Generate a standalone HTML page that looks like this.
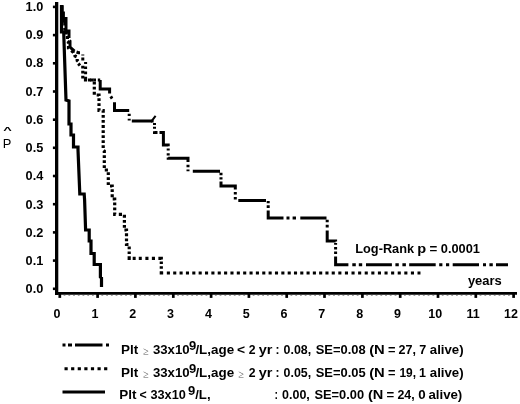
<!DOCTYPE html>
<html><head><meta charset="utf-8"><title>chart</title>
<style>html,body{margin:0;padding:0;background:#fff}body{width:520px;height:404px;position:relative;overflow:hidden}</style></head>
<body>
<svg width="520" height="404" viewBox="0 0 520 404" style="position:absolute;left:0;top:0" font-family="Liberation Sans, sans-serif" font-weight="bold" fill="#000">
<rect width="520" height="404" fill="#fff"/>
<g stroke="#000" fill="none">
<line x1="56.65" y1="2" x2="56.65" y2="295" stroke-width="3.3"/>
<line x1="55" y1="293.4" x2="517" y2="293.4" stroke-width="2.9"/>
<line x1="52.9" y1="288.8" x2="56" y2="288.8" stroke-width="2.6"/>
<line x1="52.9" y1="260.6" x2="56" y2="260.6" stroke-width="2.6"/>
<line x1="52.9" y1="232.4" x2="56" y2="232.4" stroke-width="2.6"/>
<line x1="52.9" y1="204.2" x2="56" y2="204.2" stroke-width="2.6"/>
<line x1="52.9" y1="176.0" x2="56" y2="176.0" stroke-width="2.6"/>
<line x1="52.9" y1="147.8" x2="56" y2="147.8" stroke-width="2.6"/>
<line x1="52.9" y1="119.7" x2="56" y2="119.7" stroke-width="2.6"/>
<line x1="52.9" y1="91.5" x2="56" y2="91.5" stroke-width="2.6"/>
<line x1="52.9" y1="63.3" x2="56" y2="63.3" stroke-width="2.6"/>
<line x1="52.9" y1="35.1" x2="56" y2="35.1" stroke-width="2.6"/>
<line x1="52.9" y1="6.9" x2="56" y2="6.9" stroke-width="2.6"/>
<line x1="59.8" y1="294" x2="59.8" y2="297.9" stroke-width="2.7"/>
<line x1="97.6" y1="294" x2="97.6" y2="297.9" stroke-width="2.7"/>
<line x1="135.4" y1="294" x2="135.4" y2="297.9" stroke-width="2.7"/>
<line x1="173.3" y1="294" x2="173.3" y2="297.9" stroke-width="2.7"/>
<line x1="211.1" y1="294" x2="211.1" y2="297.9" stroke-width="2.7"/>
<line x1="248.9" y1="294" x2="248.9" y2="297.9" stroke-width="2.7"/>
<line x1="286.7" y1="294" x2="286.7" y2="297.9" stroke-width="2.7"/>
<line x1="324.5" y1="294" x2="324.5" y2="297.9" stroke-width="2.7"/>
<line x1="362.4" y1="294" x2="362.4" y2="297.9" stroke-width="2.7"/>
<line x1="400.2" y1="294" x2="400.2" y2="297.9" stroke-width="2.7"/>
<line x1="438.0" y1="294" x2="438.0" y2="297.9" stroke-width="2.7"/>
<line x1="475.8" y1="294" x2="475.8" y2="297.9" stroke-width="2.7"/>
<line x1="513.6" y1="294" x2="513.6" y2="297.9" stroke-width="2.7"/>
<path d="M64.5,294.5v0.9 M69.3,294.5v0.9 M74.0,294.5v0.9 M78.7,294.5v0.9 M83.4,294.5v0.9 M88.2,294.5v0.9 M92.9,294.5v0.9 M102.3,294.5v0.9 M107.1,294.5v0.9 M111.8,294.5v0.9 M116.5,294.5v0.9 M121.3,294.5v0.9 M126.0,294.5v0.9 M130.7,294.5v0.9 M140.2,294.5v0.9 M144.9,294.5v0.9 M149.6,294.5v0.9 M154.3,294.5v0.9 M159.1,294.5v0.9 M163.8,294.5v0.9 M168.5,294.5v0.9 M178.0,294.5v0.9 M182.7,294.5v0.9 M187.4,294.5v0.9 M192.2,294.5v0.9 M196.9,294.5v0.9 M201.6,294.5v0.9 M206.4,294.5v0.9 M215.8,294.5v0.9 M220.5,294.5v0.9 M225.3,294.5v0.9 M230.0,294.5v0.9 M234.7,294.5v0.9 M239.4,294.5v0.9 M244.2,294.5v0.9 M253.6,294.5v0.9 M258.4,294.5v0.9 M263.1,294.5v0.9 M267.8,294.5v0.9 M272.5,294.5v0.9 M277.3,294.5v0.9 M282.0,294.5v0.9 M291.4,294.5v0.9 M296.2,294.5v0.9 M300.9,294.5v0.9 M305.6,294.5v0.9 M310.4,294.5v0.9 M315.1,294.5v0.9 M319.8,294.5v0.9 M329.3,294.5v0.9 M334.0,294.5v0.9 M338.7,294.5v0.9 M343.4,294.5v0.9 M348.2,294.5v0.9 M352.9,294.5v0.9 M357.6,294.5v0.9 M367.1,294.5v0.9 M371.8,294.5v0.9 M376.5,294.5v0.9 M381.3,294.5v0.9 M386.0,294.5v0.9 M390.7,294.5v0.9 M395.5,294.5v0.9 M404.9,294.5v0.9 M409.6,294.5v0.9 M414.4,294.5v0.9 M419.1,294.5v0.9 M423.8,294.5v0.9 M428.5,294.5v0.9 M433.3,294.5v0.9 M442.7,294.5v0.9 M447.5,294.5v0.9 M452.2,294.5v0.9 M456.9,294.5v0.9 M461.6,294.5v0.9 M466.4,294.5v0.9 M471.1,294.5v0.9 M480.5,294.5v0.9 M485.3,294.5v0.9 M490.0,294.5v0.9 M494.7,294.5v0.9 M499.5,294.5v0.9 M504.2,294.5v0.9 M508.9,294.5v0.9" stroke-width="1.8" stroke="#444"/>
</g>
<g stroke="#000" fill="none" stroke-width="3" stroke-linejoin="miter">
<path d="M61.8,5.2 L61.8,21 L64.8,21 L64.8,33 L67.4,33 L67.4,41 L68.5,42 L68.5,48 L73.5,52.5 L75,56 L77.2,57 L77.2,60.5 L78.2,61.5 L78.2,63.5 L80,65.5 L82.8,65.5 L82.8,80 L94.3,80 L94.3,95 L99,95 L99,110.5 L103.2,110.5 L103.2,150 L104.3,151 L104.3,170 L108.3,170 L108.3,186 L112.2,186 L112.2,199 L114.7,199 L114.7,214.3 L124.4,214.3 L124.4,230 L126.5,230 L126.5,244.5 L129.2,244.5 L129.2,258.3 L161.3,258.3 L161.3,273 L420.5,273" stroke-width="3.2" stroke-dasharray="23.3 2.55 2.8 2.3 3.3 2.25 2.8 2.25 3.08 2.25 2.7 3.11 3.36 2.25 2.91 2.6 2.81 2.25 2.54 3.05 2.8 2.25 2.8 2.25 2.8 2.5 3.2 3.1 3.2 2.65 2.8 2.25 2.8 2.25 2.8 2.7 3.25 2.25 2.8 2.25 2.8 2.25 2.7 3.1 2.9 2.25 2.8 2.25 2.8 2.25 2.8 2.25 2.8 2.25 2.8 2.25 2.8 2.25 2.8 2.36 2.97 2.25 2.8 2.25 2.8 2.25 2.8 2.35 3.2 2.55 2.8 2.25 2.8 2.25 2.8 2.6 3.25 2.25 2.8 2.25 2.8 2.35 3.2 2.25 2.8 2.25 2.8 2.25 2.75 3.1 3.2 2.95 2.81 2.26 2.81 2.21 2.81 2.26 3.2 2.25 2.8 2.25 2.8 2.25 2.99 2.81 2.6 2.3 2.6 2.1 3.7 1.9 3 3.1 3 3.6 3.1 3.4 3.1 3.4 4.2 1.9 2.6 2.2 2.6 2.3 3.7 3.66 3.1 3.26 3.1 3.26 3.1 3.26 3.1 3.26 3.1 3.26 3.1 3.26 3.1 3.26 3.1 3.26 3.1 3.26 3.1 3.26 3.1 3.26 3.1 3.26 3.1 3.26 3.1 3.26 3.1 3.26 3.1 3.26 3.1 3.26 3.1 3.26 3.1 3.26 3.1 3.19 3.1 3.19 3.1 3.19 3.1 3.19 3.1 3.19 3.1 3.19 3.1 3.19 3.1 3.5 3.1 3.5 3.1 3.5 3.1 3.5 3.1 3.5 3.1 3.5 3.1 3.5 3.1 3.5 3.1 3.5 3.1 3.5 3.1 3.5 3.1 3.5 3.1 3.5 2.97 5.01"/>
<path d="M62.1,5.2 L62.1,13 L63.4,13 L63.4,18.5 L66,18.5 L66,31 L69,31 L69,40 L70,41 L70,47 L75,51.5 L78.5,52.7 L82.8,52.7 L82.8,61 L85.6,61 L85.6,80 L100.2,80" stroke-dasharray="39.7 2.71 12.73 2.29 3.62 4.6 1 2 2.9 4.4 2 2.5 2.5 2.6 2.6 2.6 2.6 3 3 2.2 2.8 1.8 2.4 5.01"/>
<path d="M100.2,80 L100.2,89 L109.6,89 L109.6,94.5 L112,98.5 L114.5,102 L114.5,110.5 L129.2,110.5 L129.2,121 L154.5,121 L154.5,132.5 L163.4,132.5 L163.4,145 L168.2,145 L168.2,158.3 L188,158.3 L188,171.3 L221,171.3 L221,186 L235.3,186 L235.3,200.6 L268.2,200.6 L268.2,218 L327.2,218 L327.2,241 L335.6,241 L335.6,264.8 L508,264.8" stroke-dasharray="22.9 3.18 2.61 4.47 22.9 3.3 2.2 2.7 1.9 3 21.8 2.8 2 1.9 2 2.5 4.2 2 22.4 2.2 2.2 2.6 2.4 2 24.2 2.8 2.5 2.3 1.7 4.8 27.2 2.5 2.4 2 2.4 2 22.2 2.4 2.6 2.5 2.6 4 27.7 2.6 2.3 2 2.7 2.6 22.7 3 3 3.1 3.4 4.3 26.2 2.5 2.5 2.4 2.8 3.1 19.2 1.6 1.8 2.1 2.5 2.1 2.5 2.4 21.2 3.9 3.5 3 3.4 3.8 25.9 3.5 3.4 3.6 3.5 3.3 26.5 3.5 3.2 3.6 3.2 3.5 26.3 4 3 3.4 3.4 3.2 12 5.01"/>
<path d="M150.8,122.2L155.6,115.8" stroke-width="2"/>
<path d="M61.5,5 L61.5,32 L63.7,32 L64.5,56 L66,100 L69,101 L69,124 L71,124 L71,135 L73.5,135 L73.5,147 L78,147 L78,150 L79.8,194 L84.2,194 L84.6,200 L85.6,230 L89.2,230 L89.2,241 L91,241 L91,253.5 L94.2,253.5 L94.2,264.5 L100.4,264.5 L100.4,277 L101.5,278 L101.5,287" stroke-width="3.2"/>
</g>
<g font-size="12.5px">
<text x="25.6" y="293.4" textLength="17.7" lengthAdjust="spacingAndGlyphs">0.0</text>
<text x="25.6" y="265.2" textLength="17.7" lengthAdjust="spacingAndGlyphs">0.1</text>
<text x="25.6" y="236.9" textLength="17.7" lengthAdjust="spacingAndGlyphs">0.2</text>
<text x="25.6" y="208.7" textLength="17.7" lengthAdjust="spacingAndGlyphs">0.3</text>
<text x="25.6" y="180.4" textLength="17.7" lengthAdjust="spacingAndGlyphs">0.4</text>
<text x="25.6" y="152.2" textLength="17.7" lengthAdjust="spacingAndGlyphs">0.5</text>
<text x="25.6" y="123.9" textLength="17.7" lengthAdjust="spacingAndGlyphs">0.6</text>
<text x="25.6" y="95.7" textLength="17.7" lengthAdjust="spacingAndGlyphs">0.7</text>
<text x="25.6" y="67.4" textLength="17.7" lengthAdjust="spacingAndGlyphs">0.8</text>
<text x="25.6" y="39.2" textLength="17.7" lengthAdjust="spacingAndGlyphs">0.9</text>
<text x="25.6" y="10.9" textLength="17.7" lengthAdjust="spacingAndGlyphs">1.0</text>
<text x="57.1" y="318.2" text-anchor="middle">0</text>
<text x="94.9" y="318.2" text-anchor="middle">1</text>
<text x="132.7" y="318.2" text-anchor="middle">2</text>
<text x="170.6" y="318.2" text-anchor="middle">3</text>
<text x="208.4" y="318.2" text-anchor="middle">4</text>
<text x="246.2" y="318.2" text-anchor="middle">5</text>
<text x="284.0" y="318.2" text-anchor="middle">6</text>
<text x="321.8" y="318.2" text-anchor="middle">7</text>
<text x="359.7" y="318.2" text-anchor="middle">8</text>
<text x="397.5" y="318.2" text-anchor="middle">9</text>
<text x="435.3" y="318.2" text-anchor="middle">10</text>
<text x="473.1" y="318.2" text-anchor="middle">11</text>
<text x="510.9" y="318.2" text-anchor="middle">12</text>
<text x="467.9" y="285.2" textLength="33.9" lengthAdjust="spacingAndGlyphs">years</text>
<text x="355.3" y="252.7" textLength="58.8" lengthAdjust="spacingAndGlyphs">Log-Rank</text>
<text x="417.3" y="252.7" textLength="8.9" lengthAdjust="spacingAndGlyphs">p</text>
<text x="429.6" y="252.7" textLength="7.8" lengthAdjust="spacingAndGlyphs">=</text>
<text x="440.8" y="252.7" textLength="39.2" lengthAdjust="spacingAndGlyphs">0.0001</text>
<text x="2.7" y="147.8" font-weight="normal" font-size="12.4px" textLength="8.6" lengthAdjust="spacingAndGlyphs">P</text>
<text transform="translate(3.3,133.2) scale(1.22,0.8)" font-size="12px">^</text>
<text x="121.1" y="353.8" textLength="17.2" lengthAdjust="spacingAndGlyphs">Plt</text>
<text x="142.9" y="355.1" font-family="Liberation Serif, serif" font-weight="normal" font-size="11.5px" fill="#555" textLength="5.6" lengthAdjust="spacingAndGlyphs">≥</text>
<text x="152.9" y="353.8" textLength="36.7" lengthAdjust="spacingAndGlyphs">33x10</text>
<text x="189.1" y="349.6" font-size="13px">9</text>
<text x="195.4" y="353.8" textLength="38.7" lengthAdjust="spacingAndGlyphs">/L,age</text>
<text x="237.1" y="353.8" textLength="8.1" lengthAdjust="spacingAndGlyphs">&lt;</text>
<text x="248.8" y="353.8" textLength="6.8" lengthAdjust="spacingAndGlyphs">2</text>
<text x="258.8" y="353.8" textLength="13.7" lengthAdjust="spacingAndGlyphs">yr</text>
<text x="275.4" y="353.8" textLength="4.0" lengthAdjust="spacingAndGlyphs">:</text>
<text x="283.6" y="353.8" textLength="27.6" lengthAdjust="spacingAndGlyphs">0.08,</text>
<text x="315.7" y="353.8" textLength="49.9" lengthAdjust="spacingAndGlyphs">SE=0.08</text>
<text x="369.2" y="353.8" textLength="15.6" lengthAdjust="spacingAndGlyphs">(N</text>
<text x="387.9" y="353.8" textLength="7.5" lengthAdjust="spacingAndGlyphs">=</text>
<text x="398.6" y="353.8" textLength="17.4" lengthAdjust="spacingAndGlyphs">27,</text>
<text x="419.2" y="353.8" textLength="7.0" lengthAdjust="spacingAndGlyphs">7</text>
<text x="429.8" y="353.8" textLength="33.8" lengthAdjust="spacingAndGlyphs">alive)</text>
<text x="121.1" y="377.0" textLength="17.2" lengthAdjust="spacingAndGlyphs">Plt</text>
<text x="142.9" y="378.3" font-family="Liberation Serif, serif" font-weight="normal" font-size="11.5px" fill="#555" textLength="5.6" lengthAdjust="spacingAndGlyphs">≥</text>
<text x="152.9" y="377.0" textLength="36.7" lengthAdjust="spacingAndGlyphs">33x10</text>
<text x="189.1" y="372.8" font-size="13px">9</text>
<text x="195.4" y="377.0" textLength="38.7" lengthAdjust="spacingAndGlyphs">/L,age</text>
<text x="238.2" y="378.3" font-family="Liberation Serif, serif" font-weight="normal" font-size="11.5px" fill="#555" textLength="5.6" lengthAdjust="spacingAndGlyphs">≥</text>
<text x="248.8" y="377.0" textLength="6.8" lengthAdjust="spacingAndGlyphs">2</text>
<text x="258.8" y="377.0" textLength="13.7" lengthAdjust="spacingAndGlyphs">yr</text>
<text x="275.4" y="377.0" textLength="4.0" lengthAdjust="spacingAndGlyphs">:</text>
<text x="283.6" y="377.0" textLength="27.6" lengthAdjust="spacingAndGlyphs">0.05,</text>
<text x="315.7" y="377.0" textLength="49.9" lengthAdjust="spacingAndGlyphs">SE=0.05</text>
<text x="369.2" y="377.0" textLength="15.6" lengthAdjust="spacingAndGlyphs">(N</text>
<text x="387.9" y="377.0" textLength="7.5" lengthAdjust="spacingAndGlyphs">=</text>
<text x="399.4" y="377.0" textLength="16.6" lengthAdjust="spacingAndGlyphs">19,</text>
<text x="418.9" y="377.0">1</text>
<text x="429.8" y="377.0" textLength="33.8" lengthAdjust="spacingAndGlyphs">alive)</text>
<text x="119.2" y="399.3" textLength="17.2" lengthAdjust="spacingAndGlyphs">Plt</text>
<text x="139.4" y="399.3" textLength="7.2" lengthAdjust="spacingAndGlyphs">&lt;</text>
<text x="150.4" y="399.3" textLength="35.4" lengthAdjust="spacingAndGlyphs">33x10</text>
<text x="188.0" y="395.1" font-size="13px">9</text>
<text x="195.2" y="399.3" textLength="15.4" lengthAdjust="spacingAndGlyphs">/L,</text>
<text x="274.6" y="399.3" textLength="3.5" lengthAdjust="spacingAndGlyphs">:</text>
<text x="282.1" y="399.3" textLength="27.7" lengthAdjust="spacingAndGlyphs">0.00,</text>
<text x="314.4" y="399.3" textLength="49.7" lengthAdjust="spacingAndGlyphs">SE=0.00</text>
<text x="367.9" y="399.3" textLength="15.4" lengthAdjust="spacingAndGlyphs">(N</text>
<text x="386.4" y="399.3" textLength="7.7" lengthAdjust="spacingAndGlyphs">=</text>
<text x="397.4" y="399.3" textLength="17.2" lengthAdjust="spacingAndGlyphs">24,</text>
<text x="418.2" y="399.3" textLength="7.4" lengthAdjust="spacingAndGlyphs">0</text>
<text x="428.4" y="399.3" textLength="33.9" lengthAdjust="spacingAndGlyphs">alive)</text>
</g>
<g stroke="#000" fill="none" stroke-width="3">
<path d="M62.5,345H65.5M68,345H72M75,345H102.5M106,345H109"/>
<path d="M64.5,368.8H108" stroke-dasharray="3.2 3.4"/>
<path d="M62.5,392H105"/>
</g>
</svg>
</body></html>
